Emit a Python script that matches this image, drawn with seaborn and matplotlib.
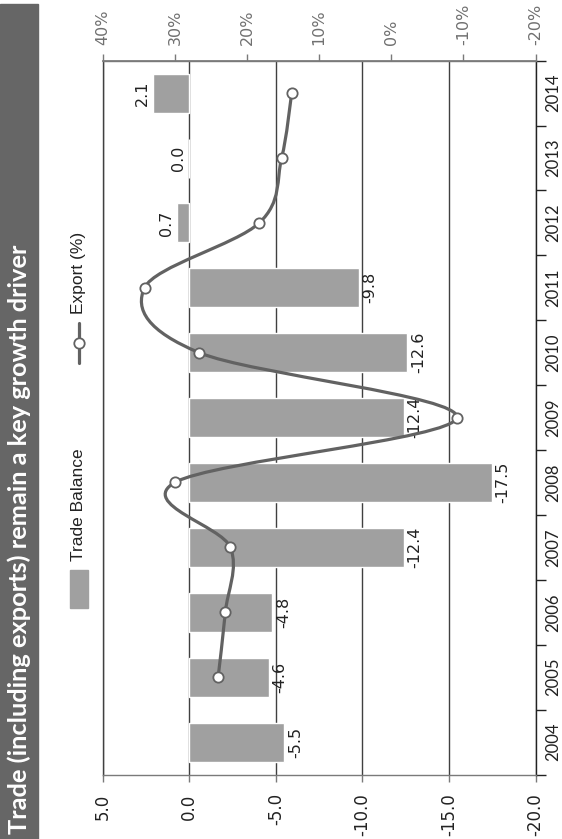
import numpy as np
import pandas as pd
import matplotlib
matplotlib.use("Agg")
import matplotlib.pyplot as plt
import seaborn as sns
from matplotlib.path import Path
from matplotlib.patches import PathPatch, Rectangle
from matplotlib.lines import Line2D

# ---- data -------------------------------------------------------------
years = ["2004", "2005", "2006", "2007", "2008", "2009",
         "2010", "2011", "2012", "2013", "2014"]
trade_balance = [-5.5, -4.6, -4.8, -12.4, -17.5, -12.4, -12.6, -9.8, 0.7, 0.0, 2.1]
export_years = ["2005", "2006", "2007", "2008", "2009",
                "2010", "2011", "2012", "2013", "2014"]
export_growth = [24.0, 23.0, 22.3, 30.0, -9.1, 26.6, 34.2, 18.3, 15.2, 13.8]
balance_ticks = [5, 0, -5, -10, -15, -20]
export_ticks = [40, 30, 20, 10, 0, -10, -20]
title = "Trade (including exports) remain a key growth driver"

# ---- style ------------------------------------------------------------
BAR = "#a0a0a0"
LINE = "#626262"
GRID = "#404040"
AXIS = "#7a7a7a"
BAND = "#666666"

W, H, DPI = 562, 839, 100
sns.set_theme(style="white")
plt.rcParams["font.family"] = ["DejaVu Sans"]
plt.rcParams["axes.unicode_minus"] = False

fig = plt.figure(figsize=(W / DPI, H / DPI), dpi=DPI)


def fx(px):
    return px / W


def fy(py):
    return 1 - py / H


left, right, top, bottom = 102.7, 535.5, 60.7, 774.5
ax = fig.add_axes([fx(left), fy(bottom), fx(right - left), (bottom - top) / H])

# the chart is laid out sideways: categories run up the right edge
order = years[::-1]
pos = {y: i for i, y in enumerate(order)}
df = pd.DataFrame({"year": years, "balance": trade_balance})
sns.barplot(data=df, x="balance", y="year", order=order, orient="h",
            color=BAR, saturation=1, width=0.6, ax=ax, zorder=2)
ax.set_xlabel("")
ax.set_ylabel("")

# primary value axis (bottom)
ax.set_xlim(5, -20)
ax.set_xticks(balance_ticks)
ax.set_xticklabels([f"{v:.1f}" for v in balance_ticks])
ax.set_axisbelow(True)
ax.xaxis.grid(True, color=GRID, lw=1.0)
ax.yaxis.grid(False)
ax.tick_params(axis="x", bottom=True, direction="out", length=5, width=1,
               color=AXIS, labelrotation=90, labelsize=12, pad=8.5,
               labelcolor="#222222")

# category axis on the right
ax.yaxis.set_ticks_position("right")
ax.set_yticks(np.arange(-0.5, len(order), 1))
ax.set_yticklabels([])
ax.set_yticks(np.arange(len(order)), minor=True)
ax.set_yticklabels(order, minor=True, family="Lato", fontsize=12,
                   rotation=90, va="center")
ax.tick_params(axis="y", which="major", right=True, left=False,
               direction="out", length=7, width=1, color="#222222")
ax.tick_params(axis="y", which="minor", right=True, left=False, length=0,
               labelright=True, labelleft=False, pad=7, labelcolor="#222222")

for side, col in [("left", GRID), ("right", "#222222"),
                  ("bottom", AXIS), ("top", AXIS)]:
    ax.spines[side].set_visible(True)
    ax.spines[side].set_color(col)
    ax.spines[side].set_linewidth(1.0)

# value labels at the bar ends
for y, v in zip(years, trade_balance):
    off = 2.5 if v < 0 else -2.5
    ax.annotate(f"{v:.1f}", xy=(v, pos[y]), xytext=(off, 0),
                textcoords="offset points", rotation=90,
                ha="left" if v < 0 else "right", va="center",
                fontsize=11.5, color="#222222", zorder=5)

# secondary value axis (top) for export growth
ax2 = ax.twiny()
ax2.set_xlim(40, -20)
ax2.set_xticks(export_ticks)
ax2.set_xticklabels([f"{v}%" for v in export_ticks])
ax2.tick_params(axis="x", top=True, bottom=False, direction="out", length=5,
                width=1, color=AXIS, labelrotation=90, labelsize=11.5,
                pad=6, labelcolor="#707070")
for side in ["left", "right", "bottom"]:
    ax2.spines[side].set_visible(False)
ax2.spines["top"].set_color(AXIS)
ax2.grid(False)

# smoothed export line (cubic Bezier segments through the points)
pts = np.array([[g, pos[y]] for y, g in zip(export_years, export_growth)])
n = len(pts)
verts = [tuple(pts[0])]
codes = [Path.MOVETO]
for i in range(n - 1):
    p_prev = pts[max(i - 1, 0)]
    p0, p1 = pts[i], pts[i + 1]
    p_next = pts[min(i + 2, n - 1)]
    c1 = p0 + (p1 - p_prev) / 6
    c2 = p1 - (p_next - p0) / 6
    verts += [tuple(c1), tuple(c2), tuple(p1)]
    codes += [Path.CURVE4] * 3
ax2.add_patch(PathPatch(Path(verts, codes), facecolor="none", edgecolor=LINE,
                        lw=2.3, capstyle="round", zorder=3))
sns.scatterplot(x=pts[:, 0], y=pts[:, 1], s=55, color="white",
                edgecolor=LINE, linewidth=1.3, ax=ax2, zorder=4, legend=False)
ax2.set_xlim(40, -20)
ax.set_ylim(len(order) - 0.5, -0.5)

# title band
fig.patches.append(Rectangle((0, 0), fx(37.7), (H - 4) / H,
                             transform=fig.transFigure, color=BAND, zorder=0))
fig.text(fx(19.5), fy(834), title, rotation=90, color="white",
         fontweight="bold", family="Lato", fontsize=18.3,
         ha="center", va="bottom")

# legend
fig.patches.append(Rectangle((fx(70), fy(608)), fx(18), 38 / H,
                             transform=fig.transFigure, color=BAR))
fig.text(fx(78.5), fy(561), "Trade Balance", rotation=90, family="Liberation Sans",
         fontsize=12.5, color="#222222", ha="center", va="bottom")
fig.lines.append(Line2D([fx(79), fx(79)], [fy(363), fy(323)],
                        transform=fig.transFigure, color=LINE, lw=2.3))
fig.lines.append(Line2D([fx(79)], [fy(343)], transform=fig.transFigure,
                        marker="o", markersize=7.5, markerfacecolor="white",
                        markeredgecolor=LINE, markeredgewidth=1.3, lw=0))
fig.text(fx(78.5), fy(314), "Export (%)", rotation=90, family="Liberation Sans",
         fontsize=12.5, color="#222222", ha="center", va="bottom")

fig.savefig("out.png", dpi=DPI)
